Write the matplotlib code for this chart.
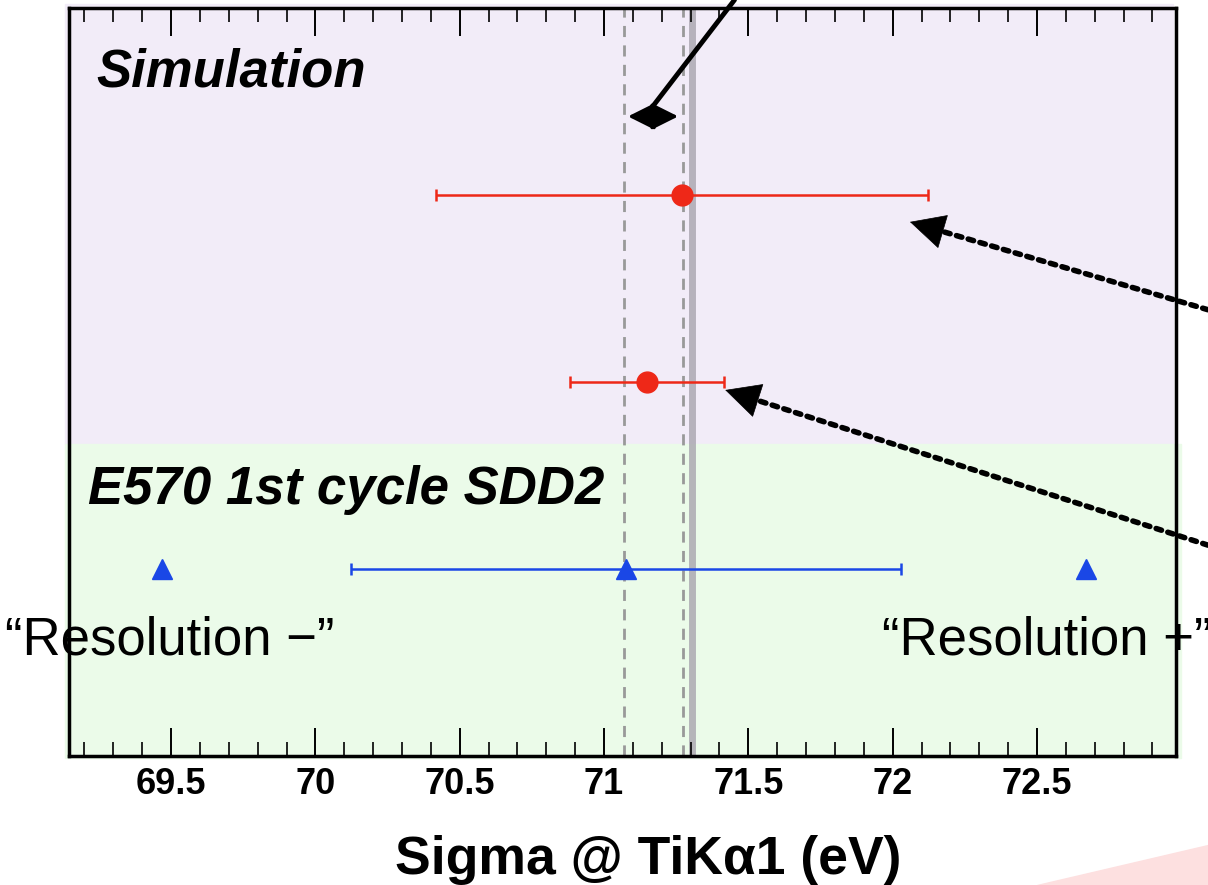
import matplotlib
matplotlib.use("Agg")
import matplotlib.pyplot as plt
from matplotlib.patches import Rectangle, Polygon
from matplotlib.ticker import MultipleLocator

plt.rcParams['font.family'] = ['Liberation Sans', 'DejaVu Sans']

# simulation points (row 3 = wide resolution, row 2 = narrow)
sim_rows = [3, 2]
sim_sigma = [71.27, 71.15]
sim_err = [0.853, 0.267]

# E570 1st cycle SDD2
data_row = 1
data_sigma = 71.075
data_err = 0.953
res_minus = 69.47
res_plus = 72.67

# reference lines
dashed_lines = [71.07, 71.275]
true_sigma = 71.305

fig = plt.figure(figsize=(12.08, 8.85), dpi=100)
ax = fig.add_axes([0.0575, 0.1458, 0.9156, 0.8452])
ax.set_facecolor('none')

# coloured panels behind the axes (figure pixels -> fraction)
W, H = 1208.0, 885.0
fig.patches.append(Rectangle((65 / W, 1 - 444 / H), 1108 / W, 440 / H,
                             transform=fig.transFigure, color='#f2ecf8', zorder=-10))
fig.patches.append(Rectangle((65 / W, 1 - 758 / H), 1116 / W, 314 / H,
                             transform=fig.transFigure, color='#ebfbe9', zorder=-10))
fig.patches.append(Polygon([(1037 / W, 0), (1.0, 0), (1.0, 1 - 845 / H)], closed=True,
                           transform=fig.transFigure, color='#fde0e0', zorder=-10))

for xv in dashed_lines:
    ax.axvline(xv, color='#999999', lw=2, ls=(0, (4, 3)), zorder=1)
ax.axvline(true_sigma, color='#a8a4ae', lw=5, alpha=0.8, zorder=1)

ax.errorbar(sim_sigma, sim_rows, xerr=sim_err, fmt='o', color='#ee2818', ms=15,
            elinewidth=1.8, capsize=4, capthick=1.8, zorder=3)
ax.errorbar([data_sigma], [data_row], xerr=[data_err], fmt='^', color='#1a47e6', ms=15,
            elinewidth=1.8, capsize=4, capthick=1.8, zorder=3)
ax.plot([res_minus, res_plus], [data_row, data_row], '^', color='#1a47e6', ms=15,
        ls='none', zorder=3)

ax.set_xlim(69.148, 72.98)
ax.set_ylim(0, 4)
ax.set_yticks([])
ax.xaxis.set_minor_locator(MultipleLocator(0.1))
ax.set_xticks([69.5, 70, 70.5, 71, 71.5, 72, 72.5])
ax.set_xticklabels(['69.5', '70', '70.5', '71', '71.5', '72', '72.5'],
                   fontsize=26, fontweight='bold')
ax.tick_params(axis='x', which='major', direction='in', length=20, width=1.4,
               top=True, pad=8)
ax.tick_params(axis='x', which='minor', direction='in', length=10, width=1.2, top=True)
for sp in ax.spines.values():
    sp.set_linewidth(2.5)

ax.set_xlabel('Sigma @ TiKα1 (eV)', fontsize=38.5, fontweight='bold')
ax.xaxis.label.set_va('baseline')
ax.xaxis.set_label_coords(0.523, -0.158)

ax.text(0.024, 0.914, 'Simulation', transform=ax.transAxes, fontsize=38,
        fontweight='bold', fontstyle='italic', va='center', ha='left')
ax.text(0.0167, 0.356, 'E570 1st cycle SDD2', transform=ax.transAxes, fontsize=38,
        fontweight='bold', fontstyle='italic', va='center', ha='left')
ax.text(68.925, 0.62, '\u201cResolution \u2212\u201d', fontsize=38, va='center',
        ha='left', clip_on=False, zorder=4)
ax.text(71.964, 0.62, '\u201cResolution +\u201d', fontsize=38, va='center',
        ha='left', clip_on=False, zorder=4)

# solid arrow with double-headed marker
ax.annotate('', xy=(71.083, 3.42), xytext=(71.257, 3.42),
            arrowprops=dict(arrowstyle='<|-|>,head_length=0.8,head_width=0.4',
                            color='black', lw=2.5, mutation_scale=20, shrinkA=0, shrinkB=0))
ax.annotate('', xy=(71.167, 3.47), xytext=(0.608, 1.0), textcoords='figure fraction',
            arrowprops=dict(arrowstyle='-', color='black', lw=3.5, shrinkA=0, shrinkB=0))

# dotted arrows: dotted body + solid head
dotted = [((72.06, 2.856), (1.0, 0.65), (20.7, -6.1)),
          ((71.42, 1.957), (1.0, 0.384), (20.6, -6.6))]
for head, tail, back in dotted:
    ax.annotate('', xy=head, xytext=tail, textcoords='figure fraction',
                arrowprops=dict(arrowstyle='-', color='black', lw=4,
                                ls=(0, (1, 1.2)), shrinkA=0, shrinkB=6))
    ax.annotate('', xy=head, xytext=back, textcoords='offset points',
                arrowprops=dict(arrowstyle='-|>,head_length=0.8,head_width=0.4',
                                color='black', lw=0.5, mutation_scale=30,
                                shrinkA=0, shrinkB=0))

fig.savefig('out.png', dpi=100)
